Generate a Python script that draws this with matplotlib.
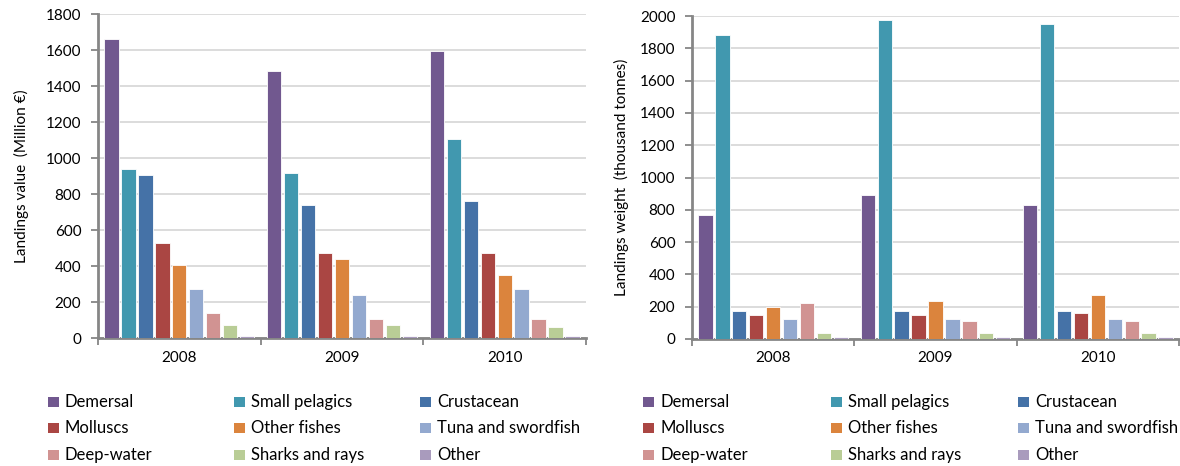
import numpy as np
import matplotlib
matplotlib.use('Agg')
from matplotlib import pyplot as plt
from matplotlib.patches import Rectangle

plt.rcParams['font.family'] = ['Lato', 'DejaVu Sans']

years = ['2008', '2009', '2010']
categories = ['Demersal', 'Small pelagics', 'Crustacean',
              'Molluscs', 'Other fishes', 'Tuna and swordfish',
              'Deep-water', 'Sharks and rays', 'Other']
colors = ['#71588f', '#4198af', '#4572a7',
          '#aa4643', '#db843d', '#93a9cf',
          '#d19392', '#b9cd96', '#a99bbd']

# landings value (million EUR), one list per category: 2008, 2009, 2010
value_demersal = [1661, 1483, 1594]
value_small_pelagics = [939, 917, 1106]
value_crustacean = [907, 739, 761]
value_molluscs = [528, 474, 474]
value_other_fishes = [407, 441, 353]
value_tuna = [274, 241, 274]
value_deep_water = [141, 107, 107]
value_sharks = [74, 74, 63]
value_other = [14, 14, 12]

# landings weight (thousand tonnes)
weight_demersal = [767, 890, 829]
weight_small_pelagics = [1880, 1977, 1952]
weight_crustacean = [173, 173, 173]
weight_molluscs = [148, 148, 161]
weight_other_fishes = [198, 235, 272]
weight_tuna = [124, 124, 124]
weight_deep_water = [223, 111, 111]
weight_sharks = [37, 37, 37]
weight_other = [12, 12, 12]

values = [value_demersal, value_small_pelagics, value_crustacean, value_molluscs,
          value_other_fishes, value_tuna, value_deep_water, value_sharks, value_other]
weights = [weight_demersal, weight_small_pelagics, weight_crustacean, weight_molluscs,
           weight_other_fishes, weight_tuna, weight_deep_water, weight_sharks, weight_other]

W, H = 1180, 466
fig = plt.figure(figsize=(W / 100, H / 100), dpi=100)

grey = '#868686'


def draw(ax, data, ymax, ylabel, labelpad):
    x = np.arange(len(years))
    pitch = 0.1043
    for j, series in enumerate(data):
        ax.bar(x + (j - 4) * pitch, series, width=0.088, color=colors[j],
               edgecolor='white', linewidth=0.6, zorder=3)
    ax.set_xlim(-0.5, 2.5)
    ax.set_ylim(0, ymax)
    ax.set_yticks(np.arange(0, ymax + 1, 200))
    ax.yaxis.grid(True, color='#d9d9d9', linewidth=1.3, zorder=0)
    # category ticks sit between the year groups, labels in the middle
    ax.set_xticks([-0.5, 0.5, 1.5, 2.5])
    ax.set_xticklabels([])
    ax.set_xticks(x, minor=True)
    ax.set_xticklabels(years, minor=True, fontsize=11)
    ax.tick_params(axis='x', which='minor', length=0, pad=9)
    ax.tick_params(axis='x', which='major', direction='out', length=5, color=grey, width=1.3)
    ax.tick_params(axis='y', direction='out', length=5, color=grey, width=1.3, labelsize=11, pad=7)
    for s in ['top', 'right']:
        ax.spines[s].set_visible(False)
    for s in ['left', 'bottom']:
        ax.spines[s].set_color(grey)
        ax.spines[s].set_linewidth(2)
    ax.set_ylabel(ylabel, fontsize=11, labelpad=labelpad)


ax1 = fig.add_axes([98 / W, 1 - 338.3 / H, (586 - 98) / W, 324 / H])
draw(ax1, values, 1800, 'Landings value  (Million €)', 12)
ax2 = fig.add_axes([692 / W, 1 - 339 / H, (1179 - 692) / W, 323 / H])
draw(ax2, weights, 2000, 'Landings weight  (thousand tonnes)', 8)


def legend(x0, col_step):
    rows_y = [402, 428, 455]
    for k, name in enumerate(categories):
        r, c = divmod(k, 3)
        x = x0 + c * col_step
        y = rows_y[r]
        fig.patches.append(Rectangle((x / W, 1 - (y + 5) / H), 11 / W, 10 / H,
                                     transform=fig.transFigure, facecolor=colors[k],
                                     edgecolor='none'))
        fig.text((x + 17) / W, 1 - y / H, name, fontsize=12, va='center', ha='left')


legend(48, 186)
legend(643, 187.5)

fig.savefig('out.png', dpi=100)
